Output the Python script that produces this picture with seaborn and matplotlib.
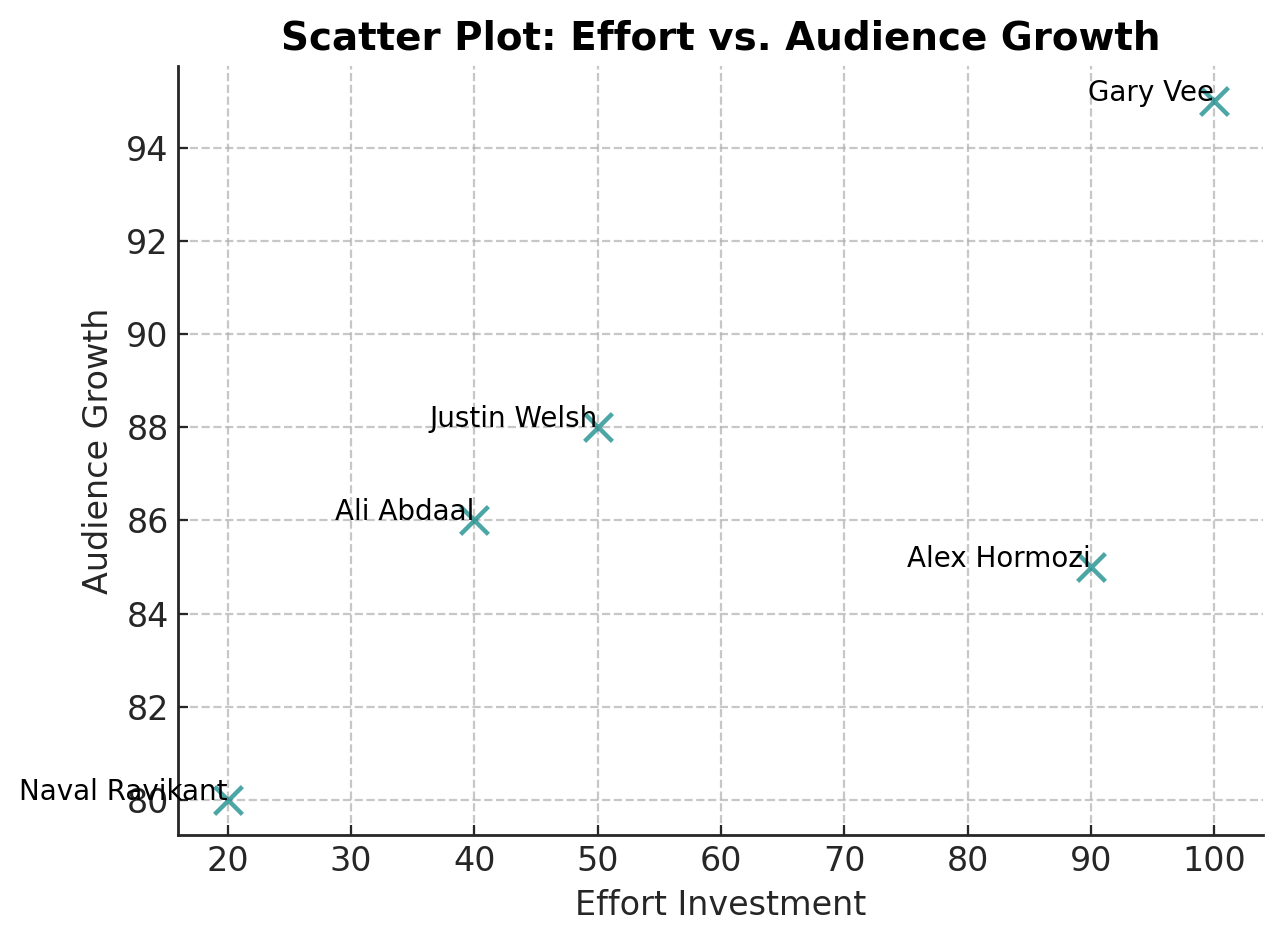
import matplotlib
matplotlib.use("Agg")
import matplotlib.pyplot as plt
import seaborn as sns
import pandas as pd

names = ["Naval Ravikant", "Ali Abdaal", "Justin Welsh", "Alex Hormozi", "Gary Vee"]
effort = [20, 40, 50, 90, 100]
growth = [80, 86, 88, 85, 95]

df = pd.DataFrame({"name": names, "effort": effort, "growth": growth})

sns.set_theme(style="ticks", rc={
    "xtick.direction": "in", "ytick.direction": "in",
    "xtick.major.size": 3.5, "ytick.major.size": 3.5,
    "xtick.major.width": 0.8, "ytick.major.width": 0.8,
    "axes.edgecolor": "#262626", "axes.linewidth": 1.0,
    "text.color": "black", "axes.labelcolor": "#262626",
    "xtick.color": "#262626", "ytick.color": "#262626",
})
plt.rcParams["font.family"] = ["DejaVu Sans"]

fig = plt.figure(figsize=(6.42, 4.715), dpi=200)
ax = fig.add_axes([0.139, 0.1145, 0.845, 0.8155])

sns.scatterplot(data=df, x="effort", y="growth", marker="x", s=100,
                color="teal", alpha=0.7, linewidth=1.6, ax=ax, zorder=3)

for n, x, y in zip(names, effort, growth):
    ax.text(x, y, n, fontsize=10, ha="right", va="baseline", color="black", zorder=4)

ax.grid(True, linestyle="--", color="#b0b0b0", alpha=0.7, linewidth=0.8)
ax.set_axisbelow(True)
sns.despine(ax=ax)
ax.tick_params(labelsize=12)
ax.set_xlabel("Effort Investment", fontsize=12)
ax.set_ylabel("Audience Growth", fontsize=12)
ax.set_title("Scatter Plot: Effort vs. Audience Growth", fontsize=14, fontweight="bold")

fig.savefig("out.png", dpi=200)
